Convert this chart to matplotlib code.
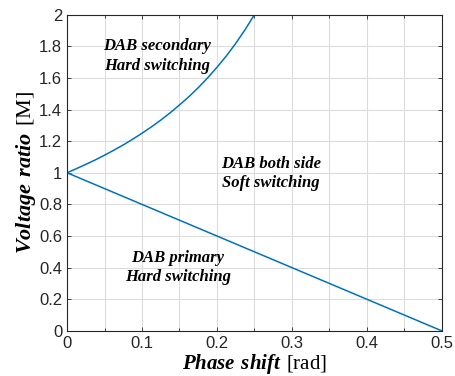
import matplotlib
matplotlib.use('Agg')
import matplotlib.pyplot as plt
import numpy as np

# boundary between secondary hard switching and ZVS region
phi_sec = [0, 0.0125, 0.025, 0.0375, 0.05, 0.0625, 0.075, 0.0875, 0.1,
           0.1125, 0.125, 0.1375, 0.15, 0.1625, 0.175, 0.1875, 0.2,
           0.2125, 0.225, 0.2375, 0.25]
m_sec = [1.0, 1.026, 1.053, 1.081, 1.111, 1.143, 1.176, 1.212, 1.25,
         1.29, 1.333, 1.379, 1.429, 1.481, 1.538, 1.6, 1.667,
         1.739, 1.818, 1.905, 2.0]

# boundary between primary hard switching and ZVS region
phi_pri = [0, 0.5]
m_pri = [1.0, 0.0]

x_ticks = [0, 0.1, 0.2, 0.3, 0.4, 0.5]
x_labels = ['0', '0.1', '0.2', '0.3', '0.4', '0.5']
y_ticks = [0, 0.2, 0.4, 0.6, 0.8, 1.0, 1.2, 1.4, 1.6, 1.8, 2.0]
y_labels = ['0', '0.2', '0.4', '0.6', '0.8', '1', '1.2', '1.4', '1.6', '1.8', '2']

regions = [
    ('DAB secondary\nHard switching', 0.12, 1.74),
    ('DAB both side\nSoft switching', 0.272, 0.995),
    ('DAB primary\nHard switching', 0.148, 0.40),
]

plt.rcParams['mathtext.fontset'] = 'custom'
plt.rcParams['mathtext.rm'] = 'Liberation Serif'
plt.rcParams['mathtext.bfit'] = 'Liberation Serif:bold:italic'

fig = plt.figure(figsize=(4.56, 3.76), dpi=100)
ax = fig.add_axes([0.147, 0.12, 0.822, 0.841])

blue = '#0072BD'
ax.plot(phi_sec, m_sec, color=blue, lw=1.1)
ax.plot(phi_pri, m_pri, color=blue, lw=1.1)

ax.set_xlim(0, 0.5)
ax.set_ylim(0, 2)
ax.set_xticks(x_ticks)
ax.set_xticklabels(x_labels)
ax.set_xticks(np.arange(0.05, 0.5, 0.1), minor=True)
ax.set_yticks(y_ticks)
ax.set_yticklabels(y_labels)

ax.tick_params(which='both', direction='in', top=True, right=True,
               labelsize=12, colors='#262626', length=3, width=0.6)
ax.tick_params(which='minor', length=2)
for lbl in ax.get_xticklabels() + ax.get_yticklabels():
    lbl.set_family('Liberation Sans')
    lbl.set_color('#262626')

ax.grid(which='both', color='#dcdcdc', lw=0.8)
ax.set_axisbelow(True)
for s in ax.spines.values():
    s.set_color('#262626')
    s.set_linewidth(0.8)

for txt, x, y in regions:
    ax.text(x, y, txt, ha='center', va='center', multialignment='center',
            fontsize=12, family='Liberation Serif', weight='bold',
            style='italic', linespacing=1.3)

ax.set_xlabel(r'$\mathbfit{Phase\ shift}\ \mathrm{[rad]}$', fontsize=15, labelpad=1)
ax.set_ylabel(r'$\mathbfit{Voltage\ ratio}\ \mathrm{[M]}$', fontsize=16, labelpad=1)

fig.savefig('out.png', dpi=100)
